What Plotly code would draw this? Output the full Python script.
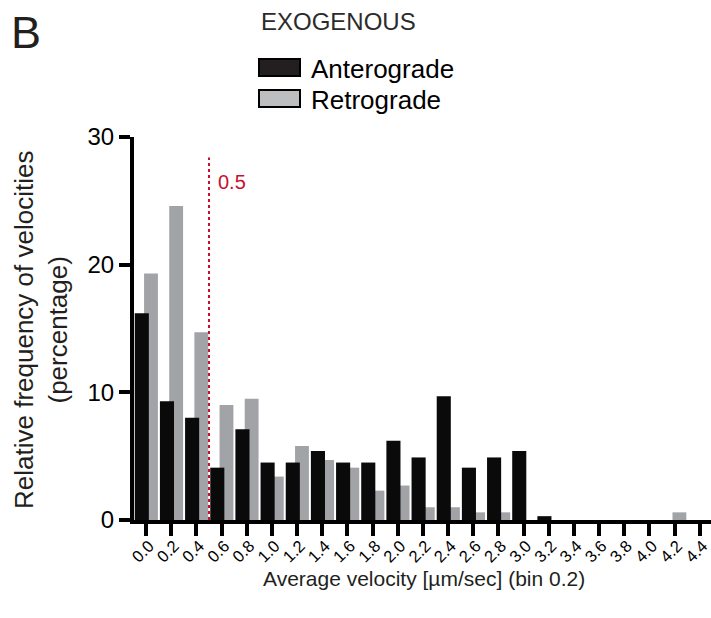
import plotly.graph_objects as go

# ---- data ----
categories = ["0.0", "0.2", "0.4", "0.6", "0.8", "1.0", "1.2", "1.4", "1.6", "1.8",
              "2.0", "2.2", "2.4", "2.6", "2.8", "3.0", "3.2", "3.4", "3.6", "3.8",
              "4.0", "4.2", "4.4"]
anterograde = [16.2, 9.3, 8.0, 4.1, 7.1, 4.5, 4.5, 5.4, 4.5, 4.5,
               6.2, 4.9, 9.7, 4.1, 4.9, 5.4, 0.3, 0, 0, 0,
               0, 0, 0]
retrograde = [19.3, 24.6, 14.7, 9.0, 9.5, 3.4, 5.8, 4.7, 4.1, 2.3,
              2.7, 1.0, 1.0, 0.6, 0.6, 0, 0, 0, 0, 0,
              0, 0.6, 0]
y_ticks = [0, 10, 20, 30]
threshold = 0.5
bin_width = 0.2

FONT = "Liberation Sans, Arial, Helvetica, sans-serif"
W, H = 711, 618
# plot area in window pixels
PL, PR, PT, PB = 134, 711, 137, 520
L, R, T, B = PL, W - PR, PT, H - PB
PW, PH = PR - PL, PB - PT


def px(xp):
    return (xp - PL) / PW


def py(yp):
    return (PB - yp) / PH


fig = go.Figure()
fig.add_trace(go.Bar(x=categories, y=retrograde, name="Retrograde",
                     marker=dict(color="#a2a3a7", line=dict(width=0)),
                     width=0.55, offset=-0.08))
fig.add_trace(go.Bar(x=categories, y=anterograde, name="Anterograde",
                     marker=dict(color="#0a0a0a", line=dict(width=0)),
                     width=0.56, offset=-0.45))

thr_idx = threshold / bin_width
fig.add_shape(type="line", xref="x", yref="y", x0=thr_idx, x1=thr_idx, y0=0, y1=28.4,
              line=dict(color="#c8102e", width=2, dash="dot"))
fig.add_annotation(x=thr_idx, y=26.5, xref="x", yref="y", text="0.5", showarrow=False,
                   xanchor="left", yanchor="middle", xshift=7,
                   font=dict(family=FONT, size=20, color="#c8102e"))

# manual legend
fig.add_shape(type="rect", xref="paper", yref="paper", x0=px(259), x1=px(300), y0=py(76), y1=py(59),
              fillcolor="#231f20", line=dict(color="#000000", width=2))
fig.add_shape(type="rect", xref="paper", yref="paper", x0=px(259), x1=px(300), y0=py(107), y1=py(90),
              fillcolor="#bcbec0", line=dict(color="#000000", width=2))
fig.add_annotation(x=px(309), y=py(69), xref="paper", yref="paper", text="Anterograde",
                   showarrow=False, xanchor="left", yanchor="middle",
                   font=dict(family=FONT, size=26, color="#000000"))
fig.add_annotation(x=px(309), y=py(100), xref="paper", yref="paper", text="Retrograde",
                   showarrow=False, xanchor="left", yanchor="middle",
                   font=dict(family=FONT, size=26, color="#000000"))
fig.add_annotation(x=px(259), y=py(22), xref="paper", yref="paper", text="EXOGENOUS",
                   showarrow=False, xanchor="left", yanchor="middle",
                   font=dict(family=FONT, size=24, color="#2b2b2b"))
fig.add_annotation(x=px(26), y=py(32), xref="paper", yref="paper", text="B",
                   showarrow=False, xanchor="center", yanchor="middle",
                   font=dict(family=FONT, size=45, color="#231f20"))
fig.add_annotation(x=px(41), y=py(330), xref="paper", yref="paper",
                   text="Relative frequency of velocities<br>(percentage)",
                   showarrow=False, textangle=-90, xanchor="center", yanchor="middle",
                   font=dict(family=FONT, size=26, color="#231f20"))
fig.add_annotation(x=px(424), y=py(578), xref="paper", yref="paper",
                   text="Average velocity [µm/sec] (bin 0.2)",
                   showarrow=False, xanchor="center", yanchor="middle",
                   font=dict(family=FONT, size=21, color="#231f20"))

fig.update_layout(
    width=W, height=H,
    margin=dict(l=L, r=R, t=T, b=B, autoexpand=False),
    paper_bgcolor="white", plot_bgcolor="white",
    barmode="overlay", showlegend=False,
    font=dict(family=FONT, color="#000000"),
)
fig.update_xaxes(type="category", range=[-0.48, 22.45], showgrid=False, zeroline=False,
                 showline=True, linecolor="#000000", linewidth=4,
                 ticks="outside", ticklen=12, tickwidth=4, tickcolor="#000000",
                 tickangle=-45, ticklabelstandoff=-6, ticklabelshift=3, automargin=False,
                 tickfont=dict(family=FONT, size=16.5, color="#000000"))
fig.update_yaxes(range=[0, 30], tickvals=y_ticks, showgrid=False, zeroline=False,
                 showline=True, linecolor="#000000", linewidth=4,
                 ticks="outside", ticklen=11, tickwidth=4, tickcolor="#000000",
                 automargin=False,
                 tickfont=dict(family=FONT, size=24, color="#000000"))

fig.write_html("out.html", config={"displayModeBar": False},
               post_script="document.body.style.margin='0px';document.body.style.overflow='hidden';")
